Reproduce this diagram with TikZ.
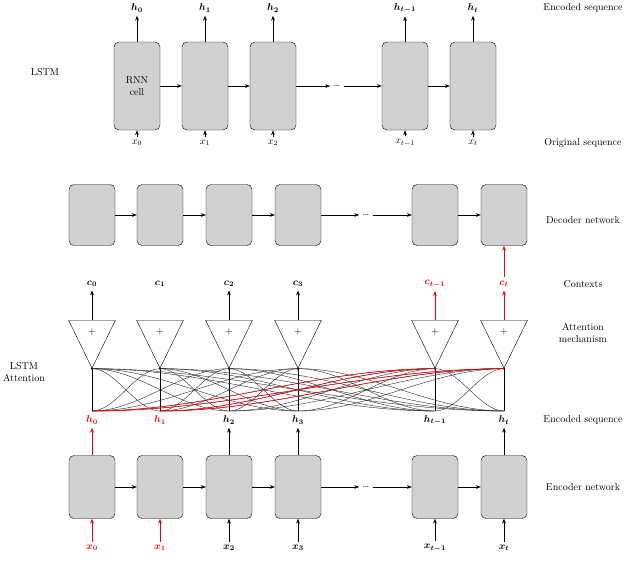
\documentclass[tikz,border=0pt]{standalone}
\usepackage{amsmath,bm}
\usetikzlibrary{shapes.geometric,arrows.meta,calc}
\begin{document}
\begin{tikzpicture}[x=1pt,y=-1pt,>=Stealth,
  cell/.style={draw,fill=black!18,rounded corners=5pt,minimum width=46pt,inner sep=0},
  att/.style={draw,isosceles triangle,shape border rotate=-90,isosceles triangle apex angle=52,minimum width=46pt,minimum height=48pt,inner sep=0},
  lab/.style={font=\normalsize},
  side/.style={font=\normalsize,align=center}]
\useasboundingbox (0,0) rectangle (640,562);
% ---------- LSTM ----------
\node[side] at (45,72) {LSTM};
\foreach \n/\x/\h/\xx in {0/137/{h_0}/{x_0},1/205/{h_1}/{x_1},2/273/{h_2}/{x_2},3/405/{h_{t-1}}/{x_{t-1}},4/473/{h_t}/{x_t}}{
  \node[cell,minimum height=88pt] (t\n) at (\x,86) {};
  \node[lab] (th\n) at (\x,8) {$\bm{\h}$};
  \node[lab] (tx\n) at (\x,143) {$\xx$};
  \draw[->] (t\n) -- (th\n);
  \draw[->] (tx\n) -- (t\n);
}
\node[align=center] at (t0) {RNN\\cell};
\node (tdots) at (337,86) {\dots};
\draw[->] (t0) -- (t1); \draw[->] (t1) -- (t2); \draw[->] (t3) -- (t4);
\draw[->] (t2.east) -- (tdots.west); \draw[->] (tdots.east) -- (t3.west);
\node[side] at (583,8) {Encoded sequence};
\node[side] at (583,143) {Original sequence};
% ---------- Attention ----------
\node[side] at (24,372) {LSTM\\Attention};
\foreach \n/\x/\c/\h/\xx/\col in {0/92/{c_0}/{h_0}/{x_0}/red,1/160/{c_1}/{h_1}/{x_1}/red,2/229/{c_2}/{h_2}/{x_2}/black,3/298/{c_3}/{h_3}/{x_3}/black,4/435/{c_{t-1}}/{h_{t-1}}/{x_{t-1}}/black,5/504/{c_t}/{h_t}/{x_t}/black}{
  \node[cell,minimum height=61pt] (d\n) at (\x,215) {};
  \node[att,anchor=north] (a\n) at (\x,320) {};
  \node at (\x,332) {$+$};
  \coordinate (p\n) at (a\n.apex);
  \fill (p\n) circle (1.3pt);
  \node[lab,text=\col] (h\n) at (\x,420) {$\bm{\h}$};
  \node[cell,minimum height=63pt] (e\n) at (\x,487) {};
  \node[lab,text=\col] (x\n) at (\x,548) {$\bm{\xx}$};
  \coordinate (q\n) at (\x,411);
  \draw (p\n) -- (q\n);
}
\foreach \n/\x/\c/\col in {0/92/{c_0}/black,1/160/{c_1}/black,2/229/{c_2}/black,3/298/{c_3}/black,4/435/{c_{t-1}}/red,5/504/{c_t}/red}{
  \node[lab,text=\col] (c\n) at (\x,284) {$\bm{\c}$};
}
% attention curves
\foreach \i in {0,...,5}{
  \foreach \j in {0,...,5}{
    \ifnum\i=\j\else
      \draw[black!85,line width=0.4pt] (q\i) .. controls ($(q\i)!0.35!(q\j)$) and ($(p\j)!0.35!(p\i)$) .. (p\j);
    \fi
  }
}
\foreach \i in {0,1}{\foreach \j in {4,5}{
  \draw[red,line width=0.5pt] (q\i) .. controls ($(q\i)!0.35!(q\j)$) and ($(p\j)!0.35!(p\i)$) .. (p\j);
}}
% contexts
\draw[->] (a0.north) -- (c0); \draw[->] (a2.north) -- (c2); \draw[->] (a3.north) -- (c3);
\draw[->,red] (a4.north) -- (c4); \draw[->,red] (a5.north) -- (c5);
\draw[->,red] (c5) -- (d5);
% decoder chain
\node (ddots) at (366,215) {\dots};
\draw[->] (d0) -- (d1); \draw[->] (d1) -- (d2); \draw[->] (d2) -- (d3); \draw[->] (d4) -- (d5);
\draw[->] (d3.east) -- (ddots.west); \draw[->] (ddots.east) -- (d4.west);
% encoder
\node (edots) at (366,487) {\dots};
\draw[->] (e0) -- (e1); \draw[->] (e1) -- (e2); \draw[->] (e2) -- (e3); \draw[->] (e4) -- (e5);
\draw[->] (e3.east) -- (edots.west); \draw[->] (edots.east) -- (e4.west);
\draw[->,red] (e0) -- (h0); \draw[->] (e2) -- (h2); \draw[->] (e3) -- (h3); \draw[->] (e5) -- (h5);
\draw[->,red] (x0) -- (e0); \draw[->,red] (x1) -- (e1);
\foreach \n in {2,...,5}{\draw[->] (x\n) -- (e\n);}
% side labels
\node[side] at (583,220) {Decoder network};
\node[side] at (583,284) {Contexts};
\node[side] at (583,333) {Attention\\mechanism};
\node[side] at (583,420) {Encoded sequence};
\node[side] at (583,487) {Encoder network};
\end{tikzpicture}
\end{document}
